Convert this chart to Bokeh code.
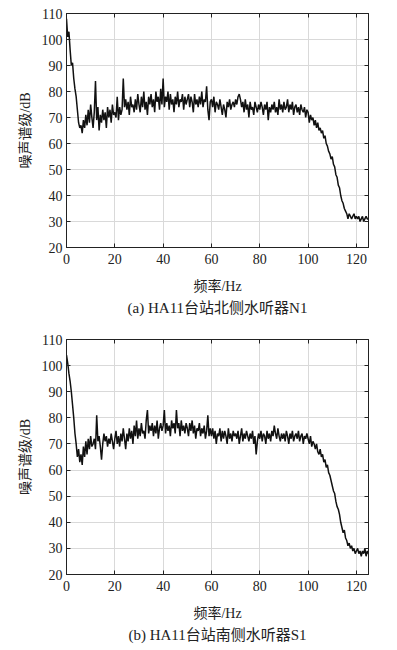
from bokeh.plotting import figure
from bokeh.models import Range1d, LinearAxis, FixedTicker, Title, CustomLabelingPolicy
from bokeh.layouts import column
from bokeh.embed import file_html
from bokeh.resources import INLINE

# frequency grid (Hz), 0.5 Hz steps from 0 to 125
freq = [i * 0.5 for i in range(251)]

# panel (a): HA11 north hydrophone N1, noise spectrum level (dB)
level_n1 = [
    108, 101, 103, 96, 90, 91, 85, 81, 78, 73,
    68, 66, 67, 64, 69, 66, 71, 67, 73, 68,
    75, 70, 66, 72, 84, 69, 74, 65, 71, 68,
    73, 69, 72, 66, 74, 70, 73, 68, 75, 71,
    72, 70, 78, 69, 74, 71, 73, 85, 74, 77,
    73, 76, 71, 78, 74, 75, 72, 77, 73, 79,
    75, 72, 78, 74, 80, 73, 76, 71, 78, 75,
    79, 74, 77, 72, 80, 76, 78, 73, 81, 75,
    85, 74, 78, 76, 80, 73, 79, 75, 77, 72,
    78, 75, 80, 74, 77, 76, 79, 73, 78, 75,
    77, 79, 74, 78, 76, 72, 79, 75, 77, 74,
    78, 75, 80, 74, 77, 76, 82, 73, 69, 76,
    77, 74, 78, 72, 76, 75, 73, 77, 74, 71,
    75, 73, 70, 76, 74, 77, 73, 75, 76, 74,
    77, 75, 78, 79, 77, 74, 76, 72, 77, 73,
    75, 70, 76, 73, 74, 71, 76, 74, 72, 75,
    73, 76, 74, 71, 75, 73, 76, 69, 74, 72,
    75, 73, 76, 72, 74, 71, 77, 73, 75, 72,
    76, 73, 74, 77, 72, 75, 73, 76, 71, 74,
    75, 72, 74, 71, 75, 73, 72, 74, 70, 73,
    72, 68, 71, 69, 70, 67, 69, 66, 68, 65,
    66, 64, 65, 62, 63, 60, 59, 57, 56, 54,
    55, 52, 51, 48, 47, 44, 43, 40, 38, 37,
    35, 34, 33, 31, 33, 32, 31, 32, 33, 31,
    32, 31, 32, 30, 31, 32, 30, 31, 32, 31,
    31,
]

# panel (b): HA11 south hydrophone S1, noise spectrum level (dB)
level_s1 = [
    104, 101, 97, 94, 90, 85, 80, 74, 70, 65,
    68, 63, 66, 62, 69, 65, 71, 66, 72, 68,
    73, 69, 70, 72, 68, 81, 71, 73, 69, 64,
    70, 74, 71, 73, 69, 72, 70, 74, 71, 68,
    72, 75, 70, 73, 69, 74, 71, 76, 72, 68,
    74, 71, 76, 72, 75, 70, 77, 73, 79, 72,
    76, 73, 78, 74, 75, 72, 79, 83, 74, 77,
    75, 78, 73, 77, 74, 79, 72, 76, 78, 75,
    77, 83, 74, 78, 75, 77, 73, 79, 76, 78,
    74, 83, 76, 78, 73, 79, 75, 77, 74, 78,
    76, 73, 78, 75, 79, 74, 77, 72, 76, 75,
    78, 73, 76, 74, 77, 72, 75, 81, 73, 76,
    73, 76, 72, 75, 70, 74, 73, 76, 71, 75,
    72, 75, 73, 70, 76, 72, 74, 71, 75, 73,
    74, 72, 75, 70, 73, 76, 71, 74, 72, 75,
    73, 71, 74, 72, 75, 70, 73, 66, 71, 74,
    72, 75, 71, 74, 73, 70, 75, 72, 74, 71,
    75, 73, 77, 74, 72, 76, 73, 71, 74, 72,
    74, 71, 75, 73, 70, 74, 72, 75, 71, 73,
    74, 72, 75, 71, 73, 74, 70, 73, 72, 74,
    72, 70, 73, 69, 71, 70, 68, 70, 67, 66,
    68, 65, 66, 63, 64, 61, 62, 59, 58, 56,
    54, 52, 51, 48, 46, 45, 43, 40, 38, 36,
    37, 34, 33, 31, 32, 30, 31, 29, 30, 28,
    29, 30, 28, 29, 27, 29, 28, 30, 27, 29,
    28,
]

x_ticks = [0, 20, 40, 60, 80, 100, 120]
y_ticks = [20, 30, 40, 50, 60, 70, 80, 90, 100, 110]
x_label = "频率/Hz"
y_label = "噪声谱级/dB"
captions = ["(a) HA11台站北侧水听器N1", "(b) HA11台站南侧水听器S1"]

SERIF = "Liberation Serif"
MIXED = "Liberation Serif, Noto Sans CJK SC"
AXIS_COLOR = "#222222"

HIDE_ALL = CustomLabelingPolicy(code="""
const all = Array.from(indices)
for (const i of all) indices.unset(i)
return indices
""")


def style_axis(ax, show_labels):
    ax.axis_line_color = AXIS_COLOR
    ax.major_tick_line_color = AXIS_COLOR
    ax.major_tick_in = 4
    ax.major_tick_out = 0
    ax.minor_tick_line_color = None
    if show_labels:
        ax.major_label_text_font = SERIF
        ax.major_label_text_font_size = "14px"
        ax.major_label_text_color = "#222222"
    else:
        ax.major_label_policy = HIDE_ALL
        ax.major_label_standoff = 0


def make(vals, caption, top_border, frame_h, bottom_border):
    p = figure(frame_width=302, frame_height=frame_h,
               x_range=Range1d(0, 125), y_range=Range1d(20, 110),
               output_backend="svg", toolbar_location=None,
               min_border_left=66, min_border_right=15,
               min_border_top=top_border, min_border_bottom=bottom_border,
               background_fill_color="white", border_fill_color="white")
    p.outline_line_color = AXIS_COLOR
    p.outline_line_width = 1
    p.xaxis.ticker = FixedTicker(ticks=x_ticks)
    p.yaxis.ticker = FixedTicker(ticks=y_ticks)
    style_axis(p.xaxis[0], True)
    style_axis(p.yaxis[0], True)
    p.xaxis.major_label_standoff = 6
    p.yaxis.major_label_standoff = 4
    p.xaxis.axis_label = x_label
    p.yaxis.axis_label = y_label
    for ax in (p.xaxis[0], p.yaxis[0]):
        ax.axis_label_text_font = MIXED
        ax.axis_label_text_font_size = "14px"
        ax.axis_label_text_font_style = "normal"
        ax.axis_label_text_color = "#222222"
    p.xaxis.axis_label_standoff = 12
    p.yaxis.axis_label_standoff = 6

    top = LinearAxis(ticker=FixedTicker(ticks=x_ticks))
    right = LinearAxis(ticker=FixedTicker(ticks=y_ticks))
    style_axis(top, False)
    style_axis(right, False)
    p.add_layout(top, "above")
    p.add_layout(right, "right")

    p.xgrid.ticker = FixedTicker(ticks=x_ticks)
    p.ygrid.ticker = FixedTicker(ticks=y_ticks)
    p.grid.grid_line_color = "#d9d9d9"
    p.grid.grid_line_width = 1

    p.line(freq, vals, line_color="#111111", line_width=1.5)

    t = Title(text=caption, align="center", text_font=MIXED,
              text_font_size="15px", text_font_style="normal",
              text_color="#222222", standoff=3)
    p.add_layout(t, "below")
    return p


p1 = make(level_n1, captions[0], 13, 234, 81)
p2 = make(level_s1, captions[1], 8, 235, 76)
layout = column(p1, p2)

open("out.html", "w").write(file_html(layout, INLINE))
